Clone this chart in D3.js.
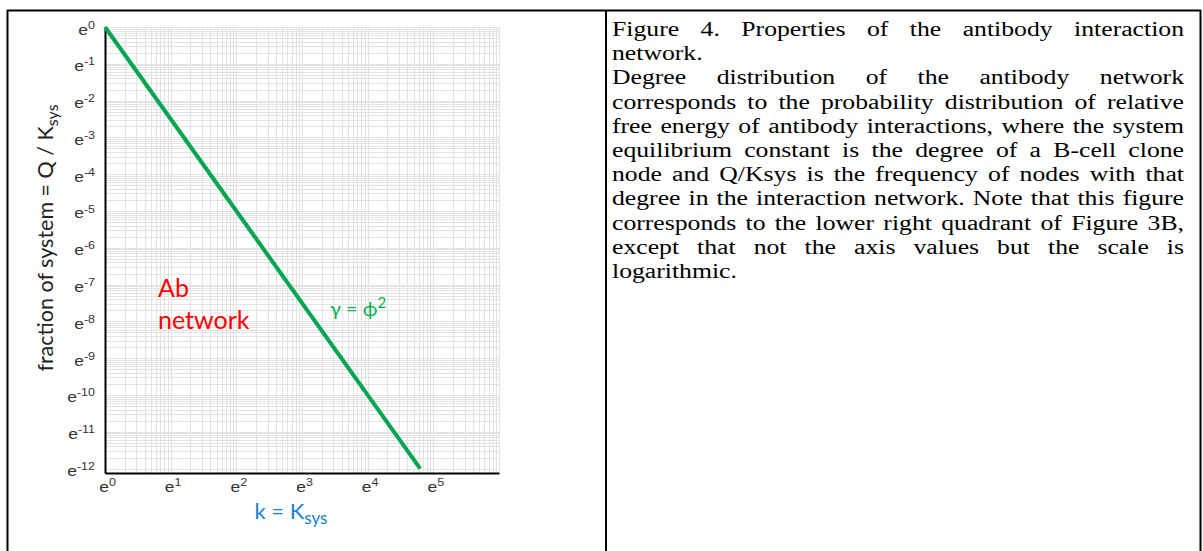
<!DOCTYPE html>
<html><head><meta charset="utf-8">
<script src="https://cdn.jsdelivr.net/npm/d3@7"></script>
<style>body{margin:0;background:#fff}svg{display:block}</style>
</head><body>
<svg id="c" width="1203" height="551"></svg>
<script>
// ---------- data ----------
const kExponents = [0, 4.8];            // ln(k) of line end points
const fractionExponents = [0, -12];     // ln(Q/Ksys) of line end points
const xTickExponents = [0, 1, 2, 3, 4, 5];
const yTickExponents = [0, -1, -2, -3, -4, -5, -6, -7, -8, -9, -10, -11, -12];
const minorMultipliers = [2, 3, 4, 5, 6, 7, 8, 9];
const captionLines = [
  "Figure 4. Properties of the antibody interaction",
  "network.",
  "Degree distribution of the antibody network",
  "corresponds to the probability distribution of relative",
  "free energy of antibody interactions, where the system",
  "equilibrium constant is the degree of a B-cell clone",
  "node and Q/Ksys is the frequency of nodes with that",
  "degree in the interaction network. Note that this figure",
  "corresponds to the lower right quadrant of Figure 3B,",
  "except that not the axis values but the scale is",
  "logarithmic."
];
const captionJustified = [true,false,true,true,true,true,true,true,true,true,false];

// ---------- setup ----------
const TSX = 1.25;  // horizontal stretch of tick labels in the source picture
const CSX = 1.19;  // horizontal stretch of the caption in the source picture
const svg = d3.select("#c");
const sans = "'Liberation Sans', Arial, sans-serif";
const calib = "Lato, 'Open Sans', sans-serif";

// frame
const frame = svg.append("g").attr("stroke", "#000").attr("stroke-width", 2);
frame.append("line").attr("x1", 7).attr("x2", 1201).attr("y1", 10.5).attr("y2", 10.5);
frame.append("line").attr("x1", 7.5).attr("x2", 7.5).attr("y1", 10).attr("y2", 551);
frame.append("line").attr("x1", 606).attr("x2", 606).attr("y1", 10).attr("y2", 551);
frame.append("line").attr("x1", 1200.5).attr("x2", 1200.5).attr("y1", 10).attr("y2", 551);

// scales
const x = d3.scaleLog().base(Math.E).domain([1, Math.exp(6)]).range([105, 499]);
const y = d3.scaleLog().base(Math.E).domain([Math.exp(-12.12), 1]).range([473, 27]);

// grid
const grid = svg.append("g").attr("stroke", "#e2e2e2").attr("stroke-width", 1).attr("shape-rendering", "crispEdges");
const xGridVals = [];
for (let n = 0; n < 6; n++) {
  xGridVals.push(Math.exp(n));
  minorMultipliers.forEach(m => xGridVals.push(Math.exp(n + Math.log10(m))));
}
xGridVals.push(Math.exp(6));
const yGridVals = [];
for (let n = -12; n < 0; n++) {
  yGridVals.push(Math.exp(n));
  minorMultipliers.forEach(m => yGridVals.push(Math.exp(n + Math.log10(m))));
}
yGridVals.push(1);
grid.selectAll(".gx").data(xGridVals).join("line")
  .attr("x1", d => Math.round(x(d)) + 0.5).attr("x2", d => Math.round(x(d)) + 0.5)
  .attr("y1", y.range()[1]).attr("y2", y.range()[0]);
grid.selectAll(".gy").data(yGridVals).join("line")
  .attr("y1", d => Math.round(y(d)) + 0.5).attr("y2", d => Math.round(y(d)) + 0.5)
  .attr("x1", x.range()[0]).attr("x2", x.range()[1]);

// axes
const xAxis = d3.axisBottom(x).tickValues(xTickExponents.map(Math.exp)).tickSize(0).tickSizeOuter(0).tickFormat("");
const yAxis = d3.axisLeft(y).tickValues(yTickExponents.map(Math.exp)).tickSize(0).tickSizeOuter(0).tickFormat("");
const gx = svg.append("g").attr("transform", `translate(0,${y.range()[0]})`).call(xAxis);
const gy = svg.append("g").attr("transform", `translate(${x.range()[0]},0)`).call(yAxis);
[gx, gy].forEach(g => g.select(".domain").attr("stroke", "#000").attr("stroke-width", 2));

function expLabel(sel, ex, anchor) {
  const t = sel.append("text").attr("font-family", sans).attr("font-size", 14)
    .attr("fill", "#333").attr("text-anchor", anchor);
  t.append("tspan").text("e");
  t.append("tspan").attr("font-size", 10).attr("dy", -6).text(ex);
  return t;
}
gx.selectAll(".tick").each(function(d, i) {
  expLabel(d3.select(this), xTickExponents[i], "middle").attr("transform", `translate(2,19) scale(${TSX},1)`);
});
gy.selectAll(".tick").each(function(d, i) {
  expLabel(d3.select(this), yTickExponents[i], "end").attr("transform", `translate(-10,7) scale(${TSX},1)`);
});

// line
const pts = kExponents.map((k, i) => [Math.exp(k), Math.exp(fractionExponents[i])]);
svg.append("path").datum(pts)
  .attr("d", d3.line().x(d => x(d[0])).y(d => y(d[1])))
  .attr("fill", "none").attr("stroke", "#00A651").attr("stroke-width", 4).attr("stroke-linecap", "butt");

// annotations
function label(px, py, fs, color, anchor) {
  return svg.append("text").attr("x", px).attr("y", py)
    .attr("font-family", calib).attr("font-size", fs).attr("fill", color).attr("text-anchor", anchor || "start");
}
label(158, 297, 25, "#ff0000").text("Ab");
label(158, 329, 25, "#ff0000").text("network");
const g2 = label(330, 316, 20, "#00B050");
g2.append("tspan").text("γ = ϕ");
g2.append("tspan").attr("font-size", 15).attr("dy", -8).text("2");

const xt = label(291, 519, 22, "#1a7fd4", "middle");
xt.append("tspan").text("k = K");
xt.append("tspan").attr("font-size", 17).attr("dy", 5).text("sys");

const yt = svg.append("text").attr("transform", `translate(53,238) rotate(-90)`)
  .attr("font-family", calib).attr("font-size", 21.5).attr("fill", "#222").attr("text-anchor", "middle");
yt.append("tspan").text("fraction of system = Q / K");
yt.append("tspan").attr("font-size", 16).attr("dy", 5).text("sys");

// caption
const CX0 = 612, CX1 = 1184, FS = 21.6, LH = 24.2, BASE0 = 36;
const cap = svg.append("g").attr("transform", `translate(${CX0},0) scale(${CSX},1)`)
  .attr("font-family", "'Liberation Serif', 'Times New Roman', serif").attr("font-size", FS).attr("fill", "#000");
captionLines.forEach((line, i) => {
  const t = cap.append("text").attr("x", 0).attr("y", BASE0 + i * LH).text(line);
  if (captionJustified[i]) {
    const w = t.node().getComputedTextLength();
    const spaces = (line.match(/ /g) || []).length;
    if (spaces > 0) t.attr("word-spacing", ((CX1 - CX0) / CSX - w) / spaces);
  }
});
</script>
</body></html>
